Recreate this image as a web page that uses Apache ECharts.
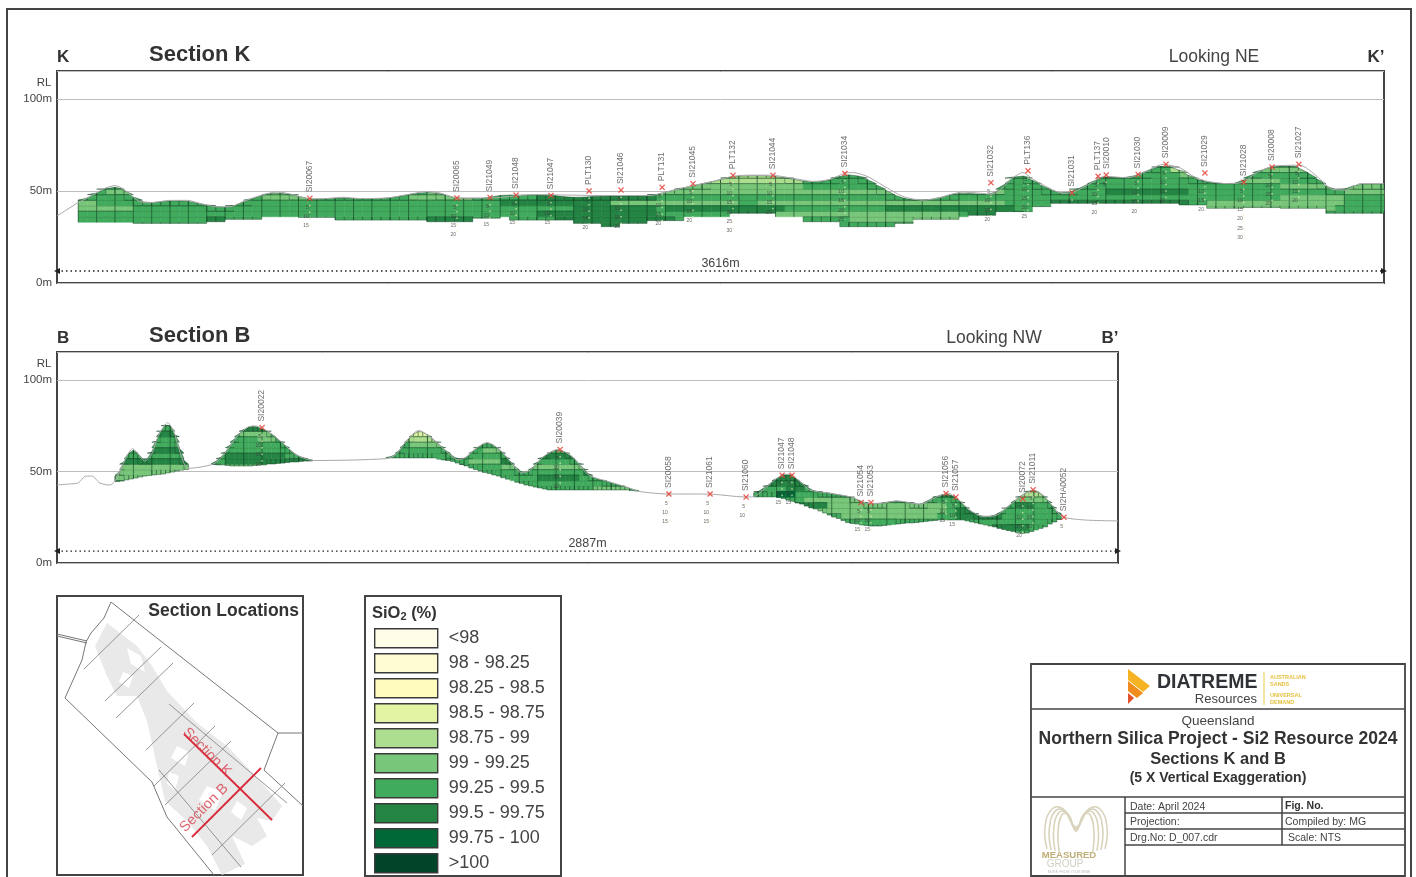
<!DOCTYPE html>
<html><head><meta charset="utf-8"><style>html,body{margin:0;padding:0;background:#fff}#c{width:1416px;height:877px}</style>
<script src="https://cdn.jsdelivr.net/npm/echarts@6/dist/echarts.min.js"></script></head>
<body><div id="c"></div><script>
const gradeLabels=['<98','98 - 98.25','98.25 - 98.5','98.5 - 98.75','98.75 - 99','99 - 99.25','99.25 - 99.5','99.5 - 99.75','99.75 - 100','>100'];
const gradeColors=['#fffde8','#fffcd4','#fffbbd','#e3f5a4','#addd8e','#78c679','#41ab5d','#238443','#006837','#004529'];
const tickInterval=50;

/* ---- Section K: 25 m columns, RL of surface and base of the block model ---- */
const kSpan=3616, kStart=58, kColWidth=25, kBaseGrade=6;
const kTop=[45,47.5,50.3,52.2,51.8,48.6,44.8,43.5,43.8,44.5,
44.7,44.7,44,42.8,42,41.2,41.2,43,45,46.8,
48.1,49.2,48.6,47.7,46.5,45.5,45.6,45.9,46.3,46.1,
45.8,45.8,45.9,46,46.7,47.5,48.3,49.2,49.2,48.6,
47,46,46,46,46,47.4,47.8,47.8,47.8,47.8,
47.8,47.8,47.2,46.6,46.5,46.8,47.1,47.3,47.3,47.3,
47.3,47.3,47.6,48.7,50,51.2,52.3,53.4,54.5,55.5,
56.9,57.9,58.2,58.3,58.3,58.2,57.5,56.7,55.9,55,
54.8,55.4,57,58.7,58.8,57.5,54.8,51.7,49,46.5,
45.5,44.9,45.2,45.8,47.3,48.4,48.9,48.6,48.2,47.9,
51,56.2,59,57.2,54.2,51.6,49.4,48.6,50,52.4,
54.8,57.4,57.5,57.1,57.5,58.8,60.9,63,63.6,62.6,
60,57,55.4,54.6,54,54,54.4,57.5,60.2,62.5,
63.3,63.5,63.6,61.5,58.4,54.6,50.5,50.3,51.8,53.8,
53.8,53.8,53.8];
const kBase=[33,33,33,33,33,33,32.4,32.4,32.4,32.4,
32.4,32.4,32.4,32.4,33.3,33.3,34.6,34.6,34.6,34.6,
36,36,36,36,35.7,35.7,35.7,35.7,34.2,34.2,
34.2,34.2,34.2,34.2,34.2,34.2,34.2,34.2,33.3,33.3,
33.3,33.3,33.3,35.2,35.2,35.2,36,34.2,34.2,34.2,
34.2,34.2,34.2,34.2,32.4,32.4,32.4,30.6,30.6,32.4,
32.4,32.4,33.9,33.9,33.9,33.9,36,36,36,36,
36,37.9,37.9,37.9,37.9,37.9,36,36,36,33.3,
33.3,33.3,33.3,30.6,30.6,30.6,30.6,30.6,30.6,32.4,
32.4,34.6,34.6,34.6,34.6,34.6,36,36.8,36.8,36.8,
38.8,38.8,38.8,38.8,41.5,41.5,43.3,43.3,43.3,43.3,
43.3,43.3,43.3,43.3,43.3,43.3,43.3,43.3,43.3,43.3,
42.4,42.4,42.4,40.6,40.6,40.6,40.6,41,41,41,
41,40.6,40.6,40.6,40.6,40.6,37.9,37.9,37.9,37.9,
37.9,37.9,37.9];
const kLayers=[30,33,36,39,42,45,48,51,54,57,60,63];
/* [layer bottom RL, first column, last column, grade index] */
const kGradeRuns=[[39,0,5,5],[42,0,1,5],[48,3,5,5],[45,20,24,5],[48,21,23,5],[45,36,40,5],[48,38,39,5],[45,41,42,4],
[33,14,15,7],[33,38,42,7],[42,46,60,7],[45,50,62,7],[39,54,62,7],[36,50,62,7],[33,52,64,7],[30,54,62,7],
[48,62,75,5],[42,58,71,5],[42,74,100,5],[48,76,100,5],[36,76,95,5],[33,84,95,5],[54,67,78,4],[57,71,77,4],[51,66,78,5],
[39,64,76,7],[36,71,75,7],[39,88,101,7],[36,97,102,7],[48,112,120,7],[42,106,120,7],
[60,119,122,4],[57,120,123,5],[60,129,134,5],[54,127,130,5],[51,131,138,5],[45,131,137,5],[42,123,137,5],[39,123,136,5],[48,138,142,5],[51,138,142,5]];
const kTerrainChain=[0,57,98,125,158,180,204,226,253,308,357,390,436,471,507,553,600,643,689,736,779,826,899,954,1008,1044,1090,1180,1297,1507,1616,1662,1733,1788,1842,1888,1943,2006,2060,2106,2147,2169,2207,2251,2305,2360,2406,2433,2469,2516,2548,2570,2605,2632,2660,2706,2741,2769,2815,2856,2916,2951,3014,3060,3096,3134,3188,3232,3270,3314,3387,3433,3477,3515,3551,3616];
const kTerrainRL=[36.4,43.6,47.8,51,52.9,51.2,47.2,44.2,43.6,44.9,44.9,43.2,41.4,41.4,44.2,47.5,49.5,48,45.7,45.9,46.6,45.9,46.2,48,49.7,48.9,46.2,46.2,48,47.5,47.5,49.5,52.9,55.2,58,58.6,58.6,56.9,55.2,56.3,59.7,60,58,53,47,45,46.3,48,49.4,48.8,48.2,50.6,57.2,60,56.3,51.3,48.7,49.3,54,58,57.2,59,64.4,62.6,58,55.3,54,54.8,60,63.5,64,58,50.8,50.5,54,54];
const kHoleNames=['SI20067','SI20065','SI21049','SI21048','SI21047','PLT130','SI21046','PLT131','SI21045','PLT132','SI21044','SI21034','SI21032','PLT136','SI21031','PLT137','SI20010','SI21030','SI20009','SI21029','SI21028','SI20008','SI21027'];
const kHoleChain=[689,1090,1180,1251,1346,1450,1537,1649,1733,1842,1951,2147,2545,2646,2766,2837,2859,2946,3022,3128,3234,3311,3384];
const kHoleRL=[46,46.2,46.5,47.8,47.6,50,50.5,52,54,58.5,58.5,59.5,54.5,61,49,58,58.7,59,64.5,59.8,54.8,63,64.5];
const kHoleDepth=[15,20,15,15,15,20,20,20,20,30,20,25,20,25,5,20,5,20,20,20,30,20,20];

/* ---- Section B: 12.5 m columns, null where no model ---- */
const bSpan=2887, bStart=158, bColWidth=12.5, bBaseGrade=6;
const N=null;
const bTop=[47.5,52.5,58.2,61.7,61.5,57.9,56,57.9,63.4,70,74.3,76.5,73.2,66.7,58.5,53.6,
N,N,N,N,N,
54.4,56.8,58.7,62.3,66.1,69.4,71.9,73.8,74.6,74.9,73.8,72.7,71.6,69.4,67.5,65.3,63.1,60.9,59,57.9,57.1,56.3,
N,N,N,N,N,N,N,N,N,N,N,N,N,N,N,N,
57.7,58.5,60.1,63.4,66.7,69.1,71.6,72.1,71,69.1,67.2,65,62.3,60.4,58.5,56.6,56.8,57.7,59.8,62.3,64.2,65.6,65.6,63.9,62.3,59.6,56.8,54.1,51.4,49.5,49.7,51.1,53.6,56.8,58.5,59.8,61.5,62,61.2,59.6,57.9,55.7,53,50,47.5,46.4,45.6,45,44.3,43.4,42.6,42.1,41.3,40.4,39.6,
N,N,N,N,N,N,N,N,N,N,N,N,N,N,N,N,N,N,N,N,N,N,N,N,N,
38.3,39.9,41.3,43.2,45.4,47,48.1,48.4,47.5,45.4,43.7,42.1,39.9,39.3,38.8,38.5,38.3,37.7,37.2,36.9,36.3,35.8,34.7,33.6,32.8,32.5,32.5,32.5,33.1,33.3,33.9,33.9,33.3,33.3,32.8,32.2,32.2,33.3,35,36.1,36.9,37.7,37.7,36.1,34.7,32.2,29.2,27.9,26.5,25.7,25.4,25.7,26,27.3,29,31.1,33.3,35.5,37.2,38.8,39.9,39.3,37.7,35.5,32.8,29.5,26.5];
const bBase=[44.5,44.8,45.4,45.9,46.4,47,47.5,47.8,48.1,48.4,48.6,49.2,49.7,50.3,50.8,51.1,
N,N,N,N,N,
53.8,53.6,53.6,53.3,53,53,53,53,53,53.3,53.6,53.6,54.1,54.1,54.4,54.6,54.9,55.2,55.2,55.5,55.7,55.7,
N,N,N,N,N,N,N,N,N,N,N,N,N,N,N,N,
57.4,57.4,57.4,57.4,57.4,57.4,57.4,57.4,57.4,57.4,57.4,56.8,56.3,56,55.5,54.6,53.8,53,51.9,51.1,50.3,49.5,48.9,48.1,47.5,46.6,45.8,45,44.1,43.5,42.6,42.1,41.5,41,40.4,39.9,39.9,39.9,39.9,39.9,39.9,39.9,39.9,39.9,39.9,39.9,39.9,39.9,39.9,39.9,39.9,39.9,39.9,39.6,39.3,
N,N,N,N,N,N,N,N,N,N,N,N,N,N,N,N,N,N,N,N,N,N,N,N,N,
36.1,36.1,36.1,36.1,36.1,35.8,35.2,34.4,33.6,32.8,32.2,31.1,30.1,29.5,28.4,27.3,26.2,25.1,24.3,23.2,22.1,21.6,21.3,20.8,20.5,20.2,20.2,20.2,20.5,20.8,21,21.3,21.6,21.9,21.9,22.1,22.4,22.7,23,23.2,23.5,23.5,23.5,23.5,23.5,23.5,23,22.4,21.9,21.3,20.8,20.2,19.7,18.9,18.3,17.8,17.2,16.7,16.2,16.4,17.2,18,18.9,19.7,21.3,22.4,23.8];
const bLayers=[15,18,21,24,27,30,33,36,39,42,45,48,51,54,57,60,63,66,69,72,75];
const bGradeRuns=[[45,0,15,5],[48,0,15,5],[51,0,15,5],[54,0,15,7],[60,7,15,7],[69,9,13,7],
[51,21,42,5],[54,24,42,7],[57,24,36,7],[69,27,33,5],[66,31,34,5],[72,27,32,7],
[57,59,74,6],[63,64,70,5],[66,63,69,4],[69,64,68,3],[72,65,67,4],
[60,80,84,5],[54,77,83,5],[51,84,88,5],[54,84,86,7],
[60,93,98,5],[57,91,100,7],[51,90,102,5],[45,92,100,7],[39,104,111,5],[48,102,108,7],
[42,140,150,7],[45,142,148,7],[39,146,149,7],[36,144,147,8],
[33,150,165,5],[30,155,180,5],[27,150,180,5],[24,158,178,5],[30,146,154,7],
[36,197,201,4],[33,196,202,5],[18,191,198,7],[24,187,192,7],[24,183,187,7],[27,183,187,7],[30,196,199,7],[36,180,184,7]];
const bTerrainChain=[0,35,57,79,95,117,144,158,177,192,206,220,239,257,276,301,318,337,356,426,454,492,520,539,576,614,650,698,895,922,951,984,1017,1053,1091,1110,1137,1171,1204,1233,1265,1288,1325,1363,1401,1448,1504,1551,1584,1665,1769,1872,1894,1932,1973,1995,2022,2049,2103,2158,2207,2239,2286,2348,2395,2424,2449,2484,2520,2558,2593,2629,2656,2683,2710,2735,2797,2887];
const bTerrainRL=[42.6,43.2,43.7,47.5,47.5,43.7,42.6,44.8,52.7,59.2,62.5,59.6,55.8,59.2,69.6,76.7,71.6,59.2,51.7,54.1,59.2,69.6,74.3,74.9,71.6,65.6,59.2,56,57,59.2,66.8,72.4,68.6,62.1,56.4,57.4,62.1,65.8,62.1,55.5,49.2,50.8,58.3,62.1,58.3,47.9,44.3,41.4,39.1,37.7,37.7,36.1,36.2,41.7,48.1,48.5,44.4,39.9,38.1,36.2,32.6,32.6,33.9,32.1,36.2,38.1,35.4,29,25.3,26.2,31.7,37.2,39.9,37.2,30.8,25.3,23.5,23];
const bHoleNames=['SI20022','SI20039','SI20058','SI21061','SI21060','SI21047','SI21048','SI21054','SI21053','SI21056','SI21057','SI20072','SI21011','SI2HA0052'];
const bHoleChain=[558,1369,1665,1777,1875,1973,2000,2188,2215,2419,2446,2628,2656,2740];
const bHoleRL=[74,62,37.7,37.7,36,48,48,33,33,38,36,35,40,25];
const bHoleDepth=[20,20,15,15,10,15,15,15,15,15,15,20,20,5];

/* ---- Location inset, local map units ---- */
const mapBoundary=[[[54,6],[47,22],[34,37],[29,46],[25,64],[8,102],[95,186],[110,221],[157,279]],[[54,6],[221,137],[207,174],[246,210]],[[221,137],[246,137]],[[0,38],[30,45]],[[0,40],[30,47]]];
const mapSections=[[[27,73],[82,19]],[[48,105],[104,51]],[[59,122],[116,67]],[[89,154],[137,107]],[[112,108],[230,207]],[[97,190],[158,130]],[[108,209],[174,145]],[[102,174],[184,271]],[[155,259],[228,187]]];
const mapRedLines=[[[127,138],[215,224]],[[135,241],[204,172]]];
const mapRedLabels=[['Section K',150,156,-45],['Section B',147,212,45]];
const mapDeposit=[[38,50],[50,27],[80,50],[95,70],[110,95],[140,127],[170,150],[205,187],[225,210],[215,225],[200,222],[210,240],[195,250],[175,240],[188,268],[165,279],[150,250],[130,225],[108,205],[100,170],[90,125],[80,100],[60,100],[50,80]];
const mapHoles=[[[70,52],[84,60],[88,76],[74,68]],[[120,150],[132,156],[128,170],[114,162]],[[150,190],[166,196],[158,214],[142,204]],[[112,176],[122,180],[118,194],[110,188]],[[180,205],[190,212],[184,224],[174,216]],[[66,76],[76,80],[72,92],[62,86]]];

const lineInk='rgba(6,55,26,0.85)';
function clipY(pts,limit,keepBelow){
  const out=[];
  pts.forEach((p,i)=>{
    const q=pts[(i+1)%pts.length],pin=keepBelow?p[1]<=limit:p[1]>=limit,qin=keepBelow?q[1]<=limit:q[1]>=limit;
    if(pin)out.push(p);
    if(pin!==qin){const t=(limit-p[1])/(q[1]-p[1]);out.push([p[0]+t*(q[0]-p[0]),limit]);}
  });
  return out;
}
function buildCells(start,width,span,tops,bases,layers,runs,baseGrade,vEvery,step){
  const out=gradeColors.map(()=>[]);
  tops.forEach((t,c)=>{
    if(t==null)return;
    const b=bases[c],prev=tops[c-1],next=tops[c+1];
    const tl=prev==null?t:(prev+t)/2,tr=next==null?t:(next+t)/2;
    const x0=start+c*width,x1=Math.min(span,start+(c+1)*width);
    layers.forEach(lo=>{
      const hi=lo+step,y0=Math.max(lo,b);
      if(Math.max(tl,tr)<=y0||hi<=y0)return;
      let g=baseGrade;
      runs.forEach(r=>{if(r[0]===lo&&c>=r[1]&&c<=r[2])g=r[3];});
      const poly=clipY(clipY([[x0,y0],[x1,y0],[x1,Math.max(tr,y0)],[x0,Math.max(tl,y0)]],hi,true),y0,false);
      if(poly.length<3)return;
      const edge=tl<hi||tr<hi||b>lo;
      out[g].push({value:[x0,x1,y0,hi,c%vEvery===0?1:0,edge?1:0,Math.min(hi,tl)],poly:poly});
    });
  });
  return out;
}
const cellItem=cells=>(params,api)=>{
  const pts=cells[params.dataIndex].poly.map(q=>api.coord(q)),fill=api.visual('color');
  const x0=api.value(0),x1=api.value(1),y0=api.value(2),hi=api.value(3),major=api.value(4),edge=api.value(5),leftTop=api.value(6);
  const kids=[{type:'polygon',shape:{points:pts},style:{fill:fill,stroke:edge?lineInk:fill,lineWidth:edge?0.5:0.5}}];
  if(!edge){const a=api.coord([x0,hi]),b=api.coord([x1,hi]);kids.push({type:'line',shape:{x1:a[0],y1:a[1],x2:b[0],y2:b[1]},style:{stroke:lineInk,lineWidth:0.6}});}
  if(major&&leftTop>y0){const a=api.coord([x0,leftTop]),b=api.coord([x0,y0]);kids.push({type:'line',shape:{x1:a[0],y1:a[1],x2:b[0],y2:b[1]},style:{stroke:lineInk,lineWidth:0.7}});}
  return {type:'group',children:kids};
};
function sectionSeries(axis,cells,terrainX,terrainY,names,chains,rls,depths,span,dimRL,dimLabel){
  const s=[];
  cells.forEach((d,g)=>s.push({type:'custom',name:gradeLabels[g],xAxisIndex:axis,yAxisIndex:axis,data:d,renderItem:cellItem(d),itemStyle:{color:gradeColors[g]},silent:true,animation:false,z:3,encode:{x:[0,1],y:[2,3]}}));
  s.push({type:'line',xAxisIndex:axis,yAxisIndex:axis,data:terrainX.map((x,i)=>[x,terrainY[i]]),showSymbol:false,smooth:0.25,silent:true,animation:false,lineStyle:{color:'#a9a9a9',width:1},z:4});
  s.push({type:'custom',xAxisIndex:axis,yAxisIndex:axis,silent:true,animation:false,z:5,data:chains.map((x,i)=>[x,rls[i],depths[i]]),
    renderItem:(p,api)=>{const a=api.coord([api.value(0),api.value(1)]),b=api.coord([api.value(0),api.value(1)-api.value(2)]);
      return {type:'line',shape:{x1:a[0],y1:a[1],x2:b[0],y2:b[1]},style:{stroke:'#eef3c0',lineWidth:1,lineDash:[1.5,5]}};}});
  const ticks=[];
  chains.forEach((x,i)=>{for(let d=5;d<=depths[i];d+=5)ticks.push([x,rls[i]-d,d]);});
  s.push({type:'scatter',xAxisIndex:axis,yAxisIndex:axis,data:ticks,symbolSize:0,silent:true,animation:false,z:6,
    label:{show:true,position:'left',distance:1,fontSize:5,color:'#3d3d3d',fontFamily:'Liberation Sans',formatter:p=>String(p.value[2])}});
  s.push({type:'scatter',xAxisIndex:axis,yAxisIndex:axis,data:chains.map((x,i)=>[x,rls[i],names[i]]),silent:true,animation:false,z:7,
    symbol:'path://M1.5,0 L5,3.5 L8.5,0 L10,1.5 L6.5,5 L10,8.5 L8.5,10 L5,6.5 L1.5,10 L0,8.5 L3.5,5 L0,1.5Z',symbolSize:6,itemStyle:{color:'#e03a30'},
    label:{show:true,position:'top',rotate:90,align:'left',verticalAlign:'middle',distance:3,fontSize:8.5,color:'#4a4a4a',fontFamily:'Liberation Sans',formatter:p=>p.value[2]},labelLayout:{hideOverlap:false}});
  s.push({type:'line',xAxisIndex:axis,yAxisIndex:axis,silent:true,animation:false,z:6,showSymbol:true,showAllSymbol:true,
    data:[{value:[0,dimRL],symbol:'triangle',symbolSize:6,symbolRotate:90},
      {value:[span/2,dimRL],symbol:'circle',symbolSize:0.1,label:{show:true,position:'top',distance:1,formatter:dimLabel,fontSize:12.5,color:'#444',fontFamily:'Liberation Sans'}},
      {value:[span,dimRL],symbol:'triangle',symbolSize:6,symbolRotate:-90}],
    lineStyle:{color:'#222',width:1.4,type:[1.5,3]},itemStyle:{color:'#222'}});
  return s;
}
const kCells=buildCells(kStart,kColWidth,kSpan,kTop,kBase,kLayers,kGradeRuns,kBaseGrade,2,3);
const bCells=buildCells(bStart,bColWidth,bSpan,bTop,bBase,bLayers,bGradeRuns,bBaseGrade,4,3);
let series=[...sectionSeries(0,kCells,kTerrainChain,kTerrainRL,kHoleNames,kHoleChain,kHoleRL,kHoleDepth,kSpan,6.5,'3616m'),
            ...sectionSeries(1,bCells,bTerrainChain,bTerrainRL,bHoleNames,bHoleChain,bHoleRL,bHoleDepth,bSpan,6.5,'2887m')];
/* inset */
series.push({type:'custom',xAxisIndex:2,yAxisIndex:2,silent:true,animation:false,z:2,data:[0,...mapHoles.map((_,i)=>i+1)],
  renderItem:(p,api)=>{const i=api.value(0);const poly=i===0?mapDeposit:mapHoles[i-1];
    return {type:'polygon',shape:{points:poly.map(q=>api.coord(q))},style:{fill:i===0?'#e9e9e9':'#ffffff'}};},encode:{x:0}});
const mapLine=(pts,color,w,z)=>({type:'line',xAxisIndex:2,yAxisIndex:2,data:pts,showSymbol:false,silent:true,animation:false,lineStyle:{color:color,width:w},z:z,clip:true});
mapBoundary.forEach(p=>series.push(mapLine(p,'#777',1,3)));
mapSections.forEach(p=>series.push(mapLine(p,'#8a8a8a',0.9,3)));
mapRedLines.forEach(p=>series.push(mapLine(p,'#d92a3a',1.8,4)));
series.push({type:'scatter',xAxisIndex:2,yAxisIndex:2,symbolSize:0,silent:true,animation:false,z:5,data:mapRedLabels.map(r=>({value:[r[1],r[2]],name:r[0],label:{rotate:r[3]}})),
  label:{show:true,position:'inside',fontSize:14.5,color:'#d8404c',fontFamily:'Liberation Sans',formatter:p=>p.name}});

/* page furniture */
const F='"Liberation Sans",Arial,sans-serif';
const T=(x,y,text,font,fill,align)=>({type:'text',silent:true,style:{x:x,y:y,text:text,font:font+' '+F,fill:fill||'#333',textAlign:align||'left',textVerticalAlign:'middle'}});
const R=(x,y,w,h,lw)=>({type:'rect',silent:true,shape:{x:x,y:y,width:w,height:h},style:{fill:'none',stroke:'#444',lineWidth:lw||1.5}});
const L=(x1,y1,x2,y2,c,lw)=>({type:'line',silent:true,shape:{x1:x1,y1:y1,x2:x2,y2:y2},style:{stroke:c||'#444',lineWidth:lw||1.5}});
const P=(pts,fill)=>({type:'polygon',silent:true,shape:{points:pts},style:{fill:fill}});
const mLogo=[];
[1,0.86,0.72,0.58].forEach(k=>{
  const base=[[-29,44],[-31,22],[-24,4],[-13,4],[0,22],[13,4],[24,4],[31,22],[29,44]];
  mLogo.push({type:'polyline',silent:true,shape:{smooth:0.45,points:base.map(q=>[1076+q[0]*k,805+q[1]*(k<1?0.82+0.18*k:1)+(1-k)*14])},style:{stroke:'#d9d3bc',lineWidth:1.6,fill:'none'}});
});
const graphic=[
  {type:'rect',silent:true,z:-1,shape:{x:7,y:9,width:1404,height:880},style:{fill:'none',stroke:'#444',lineWidth:2}},
  T(57,57,'K','bold 17px'),T(149,55,'Section K','bold 22px'),T(1214,57,'Looking NE','17.5px','#444','center'),T(1376,57,'K’','bold 17px','#333','center'),
  T(44,83,'RL','11.5px','#444','center'),
  T(57,338,'B','bold 17px'),T(149,336,'Section B','bold 22px'),T(994,338,'Looking NW','17.5px','#444','center'),T(1110,338,'B’','bold 17px','#333','center'),
  T(44,364,'RL','11.5px','#444','center'),
  T(299,611,'Section Locations','bold 17.5px','#333','right'),
  R(365,596,196,280,2),
  {type:'text',silent:true,style:{x:372,y:613,text:'{a|SiO}{b|2}{a| (%)}',rich:{a:{font:'bold 16.5px '+F,fill:'#333'},b:{font:'bold 11px '+F,fill:'#333',padding:[7,0,0,0]}},textVerticalAlign:'middle'}},
  /* title block */
  R(1031,664,374,212,1.8),L(1031,709,1405,709),L(1031,797,1405,797),L(1125,797,1125,876),L(1282,797,1282,845),L(1125,813,1405,813),L(1125,829,1405,829),L(1125,845,1405,845),
  P([[1128,669],[1150,686],[1143,692],[1128,680]],'#f5b324'),P([[1128,681],[1143,693],[1137,698],[1128,691]],'#f08c1e'),P([[1128,693],[1134,698],[1128,704]],'#e4512a'),
  T(1157,683,'DIATREME','bold 19.5px','#2f3338'),T(1257,699,'Resources','13px','#444','right'),L(1264,672,1264,705,'#e8c84a',1),
  T(1270,677,'AUSTRALIAN','bold 5.5px','#e3bf3c'),T(1270,684,'SANDS','bold 5.5px','#e3bf3c'),T(1270,695,'UNIVERSAL','bold 5.5px','#e3bf3c'),T(1270,702,'DEMAND','bold 5.5px','#e3bf3c'),
  T(1218,721,'Queensland','13.5px','#444','center'),T(1218,739,'Northern Silica Project - Si2 Resource 2024','bold 17.5px','#333','center'),
  T(1218,759,'Sections K and B','bold 16.5px','#333','center'),T(1218,778,'(5 X Vertical Exaggeration)','bold 14px','#333','center'),
  T(1130,807,'Date: April 2024','10.5px','#444'),T(1285,806,'Fig. No.','bold 10.5px','#333'),T(1130,822,'Projection:','10.5px','#444'),T(1285,822,'Compiled by: MG','10.5px','#444'),
  T(1130,838,'Drg.No: D_007.cdr','10.5px','#444'),T(1288,838,'Scale: NTS','10.5px','#444'),
  ...mLogo,T(1069,855,'MEASURED','bold 9.5px','#bfae78','center'),T(1065,864,'GROUP','10px','#cfcfc4','center'),T(1069,872,'MORE FROM YOUR MINE','3.5px','#bbb','center')
];
const yAxis=(grid,max)=>({type:'value',gridIndex:grid,min:0,max:max,interval:tickInterval,axisLine:{show:false},axisTick:{show:false},
  axisLabel:{formatter:'{value}m',fontSize:11.5,color:'#444',fontFamily:'Liberation Sans',margin:5,showMaxLabel:false},splitLine:{show:true,lineStyle:{color:'#bdbdbd',width:1}}});
const option={animation:false,backgroundColor:'#fff',textStyle:{fontFamily:'Liberation Sans'},
  grid:[{left:57,top:71,width:1327,height:212,show:true,borderColor:'#444',borderWidth:2,backgroundColor:'transparent'},
        {left:57,top:352,width:1061,height:211,show:true,borderColor:'#444',borderWidth:2,backgroundColor:'transparent'},
        {left:57,top:596,width:246,height:279,show:true,borderColor:'#444',borderWidth:2,backgroundColor:'transparent'}],
  xAxis:[{type:'value',gridIndex:0,min:0,max:kSpan,show:false},{type:'value',gridIndex:1,min:0,max:bSpan,show:false},{type:'value',gridIndex:2,min:0,max:246,show:false}],
  yAxis:[yAxis(0,115.2),yAxis(1,115.3),{type:'value',gridIndex:2,min:0,max:279,inverse:true,show:false}],
  legend:{data:gradeLabels.map(n=>({name:n,icon:'rect'})),orient:'vertical',left:374,top:628,height:260,padding:0,itemWidth:63,itemHeight:19,itemGap:4.6,selectedMode:false,
    textStyle:{fontSize:18,color:'#444',fontFamily:'Liberation Sans',padding:[0,0,0,6]},itemStyle:{borderColor:'#3a3a3a',borderWidth:1.4}},
  series:series,graphic:{elements:graphic}};
const chart=echarts.init(document.getElementById('c'),null,{renderer:'canvas',width:1416,height:877});
chart.setOption(option);
</script></body></html>
